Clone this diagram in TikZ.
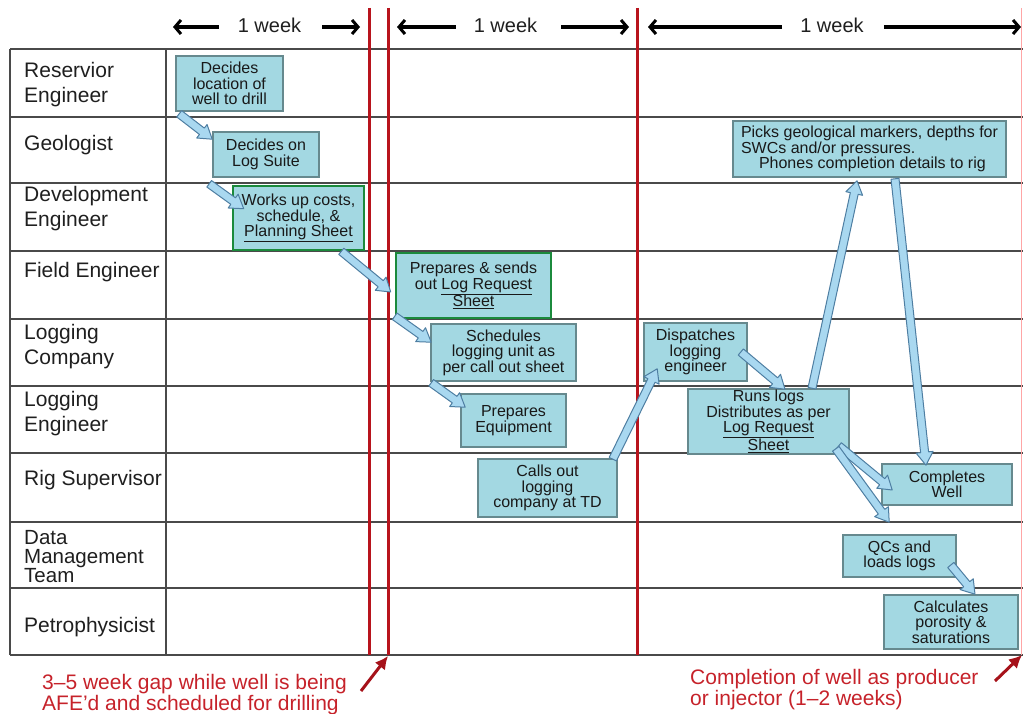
\documentclass[tikz,border=0pt]{standalone}
\usepackage{fontspec}
\setmainfont{Liberation Sans}
\usetikzlibrary{calc,arrows.meta}

\definecolor{gridgray}{HTML}{4A4A4A}
\definecolor{gapred}{HTML}{B8141D}
\definecolor{notered}{HTML}{C6222A}
\definecolor{taskfill}{HTML}{A3D8E2}
\definecolor{taskedge}{HTML}{66898E}
\definecolor{keygreen}{HTML}{1B8A3C}
\definecolor{flowfill}{HTML}{A9D8F0}
\definecolor{flowedge}{HTML}{4E7EA2}

\newcommand\rolefont{\fontsize{21}{25}\selectfont}
\newcommand\taskfont{\fontsize{16}{15.5}\selectfont}
\newcommand\weekfont{\fontsize{20}{24}\selectfont}

% block arrow from #1 to #2 (tip at #2)
\newcommand\flowarrow[2]{%
  \coordinate (fa-s) at (#1);
  \coordinate (fa-t) at (#2);
  \coordinate (fa-b) at ($(fa-t)!13pt!(fa-s)$);
  \draw[flow] ($(fa-s)!4pt!90:(fa-t)$) -- ($(fa-b)!4pt!90:(fa-t)$)
    -- ($(fa-b)!8.5pt!90:(fa-t)$) -- (fa-t) -- ($(fa-b)!8.5pt!-90:(fa-t)$)
    -- ($(fa-b)!4pt!-90:(fa-t)$) -- ($(fa-s)!4pt!-90:(fa-t)$) -- cycle;}

% multi-line nodes sit on the baseline of their last line
\tikzset{
  gridline/.style={draw=gridgray, line width=1.8pt},
  gapline/.style={draw=gapred, line width=3pt},
  role/.style={anchor=base west, inner sep=0pt, font=\rolefont, align=left, text=black!88},
  task/.style={draw=taskedge, line width=1.6pt, fill=taskfill, font=\taskfont,
    align=center, inner sep=0pt, text=black!90},
  keytask/.style={task, draw=keygreen, line width=2.6pt},
  flow/.style={draw=flowedge, line width=1pt, fill=flowfill, line join=round},
  weektext/.style={anchor=base, inner sep=0pt, font=\weekfont, text=black!88},
  weekarrow/.style={line width=3.5pt, -{Straight Barb[length=6pt,width=14pt,line width=3pt]}},
  note/.style={anchor=base west, inner sep=0pt, align=left, text=notered},
  notearrow/.style={draw=gapred!90!black, line width=3pt, -{Latex[length=13pt,width=13pt]}}
}

\begin{document}
\begin{tikzpicture}[x=1pt,y=-1pt]
\useasboundingbox (0,0) rectangle (1023,714);

% table rules
\foreach \yy in {49,117,183,251,319,386,453,522,588,655}
  \draw[gridline] (10,\yy) -- (1023,\yy);
\draw[gridline] (10,49) -- (10,655);
\draw[gridline] (166,49) -- (166,655);

% time markers
\draw[gapline] (369,8) -- (369,655);
\draw[gapline] (388,8) -- (388,655);
\draw[gapline] (637,8) -- (637,655);
\draw[draw=red!35, line width=0.8pt] (1021.5,8) -- (1021.5,655);

% week spans
\node[weektext] (wk1) at (269.5,33) {1 week};
\node[weektext] (wk2) at (505.5,33) {1 week};
\node[weektext] (wk3) at (832,33) {1 week};
\coordinate (wk1l) at (173,27);
\coordinate (wk1r) at (360,27);
\coordinate (wk2l) at (397,27);
\coordinate (wk2r) at (629,27);
\coordinate (wk3l) at (648,27);
\coordinate (wk3r) at (1021,27);
\draw[weekarrow] ([xshift=-19pt]wk1.west |- wk1l) -- (wk1l);
\draw[weekarrow] ([xshift=21pt]wk1.east |- wk1r) -- (wk1r);
\draw[weekarrow] ([xshift=-18pt]wk2.west |- wk2l) -- (wk2l);
\draw[weekarrow] ([xshift=24pt]wk2.east |- wk2r) -- (wk2r);
\draw[weekarrow] ([xshift=-18pt]wk3.west |- wk3l) -- (wk3l);
\draw[weekarrow] ([xshift=20pt]wk3.east |- wk3r) -- (wk3r);

% roles
\node[role] (r1) at (24,103) {Reservior\\Engineer};
\node[role] (r2) at (24,151) {Geologist};
\node[role] (r3) at (24,227) {Development\\Engineer};
\node[role] (r4) at (24,277) {Field Engineer};
\node[role] (r5) at (24,364) {Logging\\Company};
\node[role] (r6) at (24,431) {Logging\\Engineer};
\node[role] (r7) at (24,485) {Rig Supervisor};
\node[role, font=\fontsize{20.5}{19}\selectfont] (r8) at (24,582) {Data\\Management\\Team};
\node[role] (r9) at (24,632) {Petrophysicist};

% tasks
\node[task, minimum width=107pt, minimum height=55pt] (t1) at (229.5,83.5)
  {Decides\\location of\\well to drill};
\node[task, minimum width=106pt, minimum height=45pt] (t2) at (266,154.5)
  {Decides on\\Log Suite};
\node[keytask, minimum width=131pt, minimum height=64pt] (t3) at (298.5,218)
  {Works up costs,\\schedule, \&\\\underline{Planning Sheet}};
\node[keytask, minimum width=155pt, minimum height=65pt] (t4) at (473.5,285.5)
  {Prepares \& sends\\out \underline{Log Request}\\\underline{Sheet}};
\node[task, minimum width=145pt, minimum height=57pt] (t5) at (503.5,352.5)
  {Schedules\\logging unit as\\per call out sheet};
\node[task, minimum width=105pt, minimum height=53pt] (t6) at (513.5,420.5)
  {Prepares\\Equipment};
\node[task, minimum width=139pt, minimum height=58pt] (t7) at (547.5,488)
  {Calls out\\logging\\company at TD};
\node[task, minimum width=103pt, minimum height=58pt] (t8) at (695.5,352)
  {Dispatches\\logging\\engineer};
\node[task, minimum width=161pt, minimum height=65pt] (t9) at (768.5,421.5)
  {Runs logs\\Distributes as per\\\underline{Log Request}\\\underline{Sheet}};
\node[task, minimum width=130pt, minimum height=41pt] (t10) at (947,484.5)
  {Completes\\Well};
\node[task, minimum width=273pt, minimum height=56pt, align=left] (t11) at (869.5,149)
  {Picks geological markers, depths for\\SWCs and/or pressures.\\\hspace*{18pt}Phones completion details to rig};
\node[task, minimum width=113pt, minimum height=42pt] (t12) at (899.5,556)
  {QCs and\\loads logs};
\node[task, minimum width=134pt, minimum height=54pt] (t13) at (951,622)
  {Calculates\\porosity \&\\saturations};

% hand-offs
\flowarrow{$(t1.south west)+(4,2)$}{$(t2.north west)+(0,8)$}
\flowarrow{$(t2.south west)+(-3,6)$}{$(t3.north west)+(12,24)$}
\flowarrow{$(t3.south east)+(-24,0)$}{$(t4.west)+(-4,6.5)$}
\flowarrow{$(t4.south west)+(0,-3)$}{$(t5.north west)+(1,19)$}
\flowarrow{$(t5.south west)+(1,1)$}{$(t6.north west)+(5,14)$}
\flowarrow{$(t7.north east)+(-5,1)$}{$(t8.south west)+(14,-13)$}
\flowarrow{$(t8.east)+(-7,0)$}{$(t9.north)+(16.5,1)$}
\flowarrow{$(t9.north)+(43.5,0)$}{$(t11.south)+(-12.5,3)$}
\flowarrow{$(t11.south)+(25.5,1)$}{$(t10.north)+(-21,2)$}
\flowarrow{$(t9.south east)+(-11,-9)$}{$(t10.west)+(11,5.5)$}
\flowarrow{$(t9.south east)+(-14,-6)$}{$(t12.north west)+(47,-12)$}
\flowarrow{$(t12.east)+(-6,9)$}{$(t13.north)+(24,0)$}

% notes
\node[note, font=\fontsize{21}{19.5}\selectfont] (gapnote) at (42,710)
  {3–5 week gap while well is being\\AFE’d and scheduled for drilling};
\node[note, font=\fontsize{21}{21}\selectfont] (donenote) at (690,705)
  {Completion of well as producer\\or injector (1–2 weeks)};
\coordinate (gaptail) at (361,691);
\coordinate (gapfoot) at (388,656);
\coordinate (donetail) at (995,681);
\coordinate (donefoot) at (1022,655);
\draw[notearrow] (gaptail) -- (gapfoot);
\draw[notearrow] (donetail) -- (donefoot);
\end{tikzpicture}
\end{document}
